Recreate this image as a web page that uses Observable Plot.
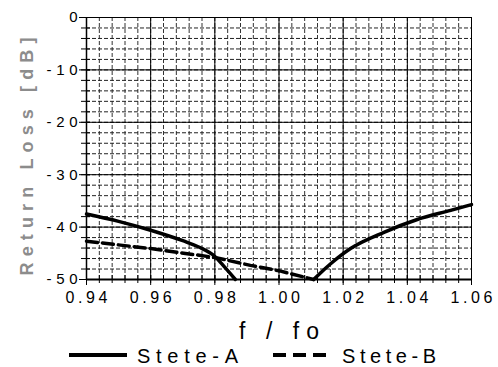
<!DOCTYPE html>
<html><head><meta charset="utf-8">
<script src="https://cdn.jsdelivr.net/npm/d3@7"></script>
<script src="https://cdn.jsdelivr.net/npm/@observablehq/plot@0.6"></script>
<style>
body{margin:0;background:#fff;font-family:"Liberation Sans",Arial,sans-serif;}
#chart svg,#legend svg{display:block;}
</style></head><body><div id="chart"></div><div id="legend"></div>
<script>
// Series data
const stateAFreq = [0.94, 0.95, 0.96, 0.97, 0.975, 0.98, 0.983, 0.9864, 1.0, 1.0108, 1.013, 1.0161, 1.0223, 1.0327, 1.0431, 1.0535, 1.06];
const stateALoss = [-37.5, -38.9, -40.6, -42.6, -43.8, -45.6, -47.6, -50, null, -50, -48.7, -47, -44.1, -41, -38.55, -36.8, -35.7];
const stateBFreq = [0.94, 0.96, 0.98, 0.9911, 1.0005, 1.0108];
const stateBLoss = [-42.7, -44.1, -45.8, -47.3, -48.4, -50];
const seriesNames = ["Stete-A", "Stete-B"];

// Tick labels
const xTickValues = [0.94, 0.96, 0.98, 1.00, 1.02, 1.04, 1.06];
const xTickLabels = ["0.94", "0.96", "0.98", "1.00", "1.02", "1.04", "1.06"];
const yTickValues = [0, -10, -20, -30, -40, -50];
const yTickLabels = ["0", "-10", "-20", "-30", "-40", "-50"];
const xTitle = "f / fo";
const yTitle = "Return Loss [dB]";

// Grid positions
const xMinor = d3.range(0, 31).map(i => +(0.94 + i * 0.004).toFixed(3));
const yMinor = d3.range(0, 26).map(i => -i * 2);
const xMajor = xTickValues;
const yMajor = yTickValues;

const dataA = stateAFreq.map((f, i) => ({f, v: stateALoss[i]}));
const dataB = stateBFreq.map((f, i) => ({f, v: stateBLoss[i]}));
const xTicks = xTickValues.map((v, i) => ({v, label: xTickLabels[i]}));
const yTicks = yTickValues.map((v, i) => ({v, label: yTickLabels[i]}));

const plot = Plot.plot({
  width: 498, height: 343,
  marginTop: 17, marginBottom: 64, marginLeft: 86, marginRight: 27,
  style: {fontFamily: "Liberation Sans, Arial, sans-serif", background: "#fff", color: "#000", overflow: "visible"},
  x: {domain: [0.94, 1.06], axis: null},
  y: {domain: [-50, 0], axis: null},
  marks: [
    Plot.ruleX(xMinor, {stroke: "#333", strokeDasharray: "4,2"}),
    Plot.ruleY(yMinor, {stroke: "#222", strokeDasharray: "4,2"}),
    Plot.ruleX(xMajor, {stroke: "#000"}),
    Plot.ruleY(yMajor, {stroke: "#000"}),
    Plot.ruleX(xMinor, {stroke: "#000", insetTop: 258, insetBottom: -4}),
    Plot.ruleX(xMajor, {stroke: "#000", insetTop: 258, insetBottom: -6}),
    Plot.ruleY(yMinor, {stroke: "#000", insetRight: 381, insetLeft: -5}),
    Plot.ruleY(yMajor, {stroke: "#000", insetRight: 381, insetLeft: -7}),
    Plot.ruleX([0.94], {stroke: "#000", strokeWidth: 1.5}),
    Plot.ruleY([-50], {stroke: "#000", strokeWidth: 2}),
    Plot.line(dataB, {x: "f", y: "v", stroke: "#000", strokeWidth: 3.5, strokeDasharray: "11,5"}),
    Plot.line(dataA, {x: "f", y: "v", stroke: "#000", strokeWidth: 3.5, curve: "monotone-x"}),
    Plot.text(xTicks, {x: "v", text: "label", frameAnchor: "bottom", dy: 23, fontSize: 16}),
    Plot.text(yTicks, {y: "v", text: "label", frameAnchor: "left", textAnchor: "end", dx: -9, fontSize: 15}),
    Plot.text([yTitle], {text: d => d, frameAnchor: "left", textAnchor: "middle", rotate: -90, dx: -59, dy: 8, fontSize: 18, fontWeight: "bold", fill: "#8c8c8c"}),
    Plot.text([xTitle], {text: d => d, frameAnchor: "bottom", lineAnchor: "bottom", dy: 59, fontSize: 23})
  ]
});
document.getElementById("chart").appendChild(plot);

// letter-spaced texts, as in the reference
d3.select(plot).selectAll("text").each(function() {
  const t = this.textContent;
  const el = d3.select(this);
  let len = null;
  if (xTickLabels.includes(t)) len = 42;
  else if (yTickLabels.includes(t) && t.length > 1) len = 31;
  else if (t === yTitle) len = 238;
  else if (t === xTitle) len = 80;
  if (len) el.attr("textLength", len).attr("lengthAdjust", "spacing");
});

// Legend
const leg = d3.select("#legend").append("svg").attr("width", 498).attr("height", 24)
  .style("font-family", "Liberation Sans, Arial, sans-serif").style("overflow", "visible");
const legItems = [
  {name: seriesNames[0], x1: 69, x2: 127, tx: 137, tl: 101, dash: null},
  {name: seriesNames[1], x1: 273, x2: 327, tx: 342, tl: 94, dash: "13,7"}
];
legItems.forEach(d => {
  const ln = leg.append("line").attr("x1", d.x1).attr("x2", d.x2).attr("y1", 12).attr("y2", 12)
    .attr("stroke", "#000").attr("stroke-width", 4);
  if (d.dash) ln.attr("stroke-dasharray", d.dash);
  leg.append("text").attr("x", d.tx).attr("y", 20).attr("font-size", 20)
    .attr("textLength", d.tl).attr("lengthAdjust", "spacing").text(d.name);
});
</script>
</body></html>
